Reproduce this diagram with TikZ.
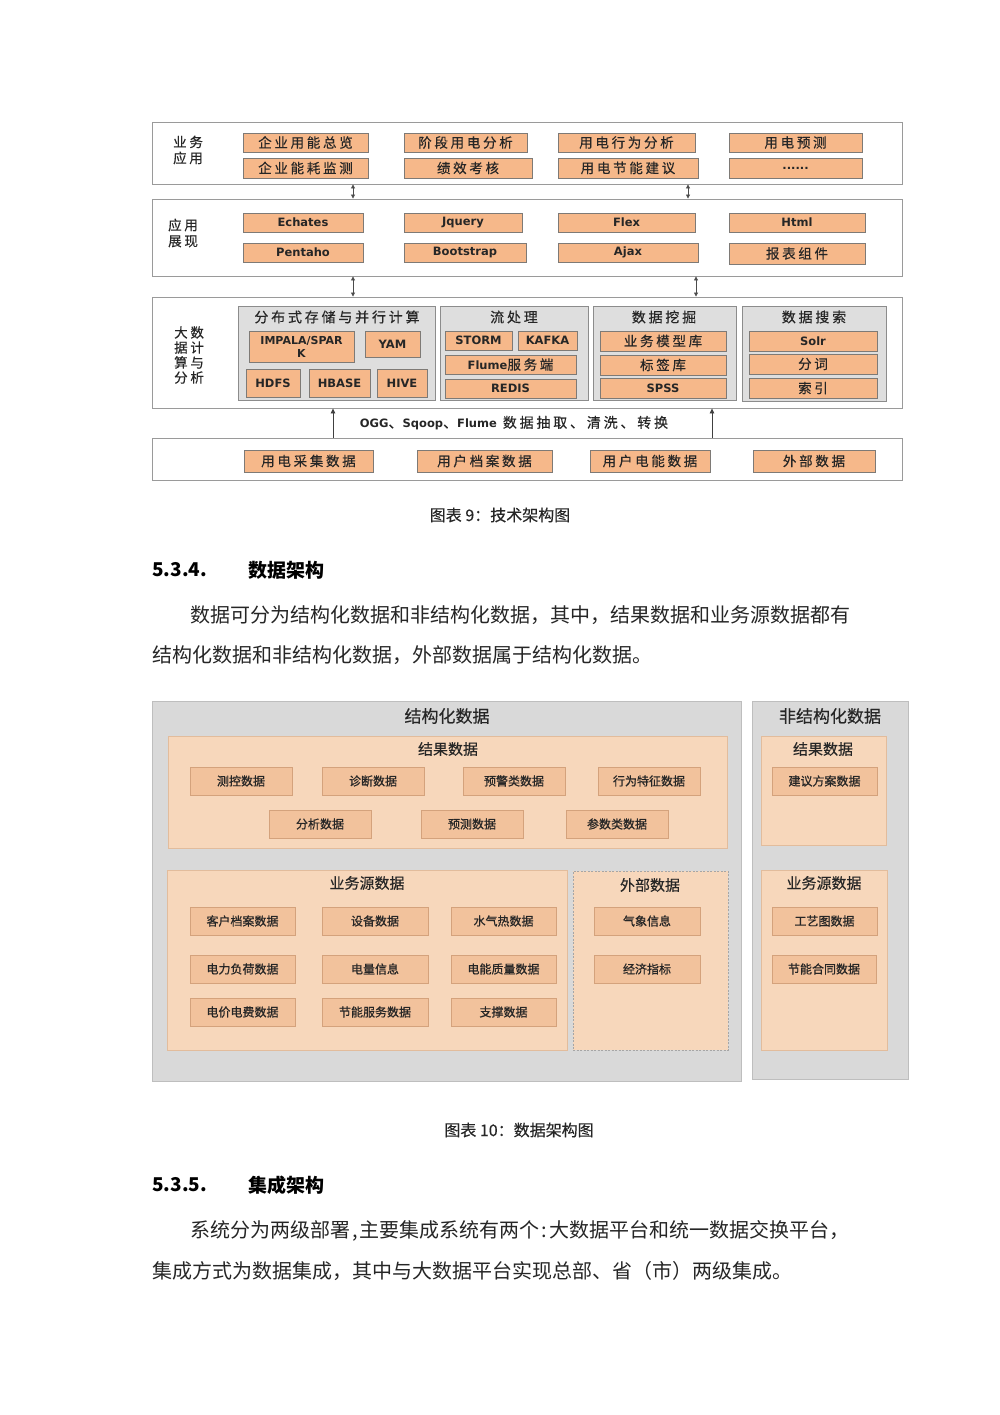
\documentclass[tikz,border=0pt]{standalone}
\usepackage{fontspec}
\setmainfont{Noto Sans CJK SC}
\newfontfamily\ensf{DejaVu Sans}
\newfontfamily\cjksp[LetterSpace=20,FakeBold=0.4]{Noto Sans CJK SC}
\newfontfamily\cjkfb[FakeBold=0.8]{Noto Sans CJK SC}
\newfontfamily\cjkmd[FakeBold=0.3]{Noto Sans CJK SC}
\usetikzlibrary{arrows.meta,shadows}
\definecolor{orng}{HTML}{F6B88A}
\definecolor{obd}{HTML}{7E7A76}
\definecolor{grpf}{HTML}{DEDEDE}
\definecolor{grpd}{HTML}{8C8C8C}
\definecolor{layd}{HTML}{9A9A9A}
\definecolor{outf}{HTML}{D9D9D9}
\definecolor{outd}{HTML}{BEBEBE}
\definecolor{panf}{HTML}{F7D7BB}
\definecolor{pand}{HTML}{E2BC9C}
\definecolor{itf}{HTML}{F2C29C}
\definecolor{itd}{HTML}{D4A27C}
\definecolor{txt}{HTML}{262626}
\newcommand\mybx[7][]{%
  \node[#1, minimum width={(#5-#3)*1pt}, minimum height={(#6-#4)*1pt}] (#2) at ({(#3+#5)/2},{(#4+#6)/2}) {#7};}
\tikzset{
  lay/.style={draw=layd, fill=white, line width=0.9pt, inner sep=0pt,
    drop shadow={shadow xshift=1pt, shadow yshift=-1pt, opacity=0.25}},
  grp/.style={draw=grpd, fill=grpf, line width=0.8pt, inner sep=0pt},
  ob/.style={draw=obd, fill=orng, line width=0.7pt, inner sep=0pt, align=center,
    text=txt, font=\cjksp\fontsize{13.5}{14}\selectfont,
    drop shadow={shadow xshift=1pt, shadow yshift=-1pt, opacity=0.35}},
  obe/.style={ob, font=\ensf\bfseries\fontsize{11.5}{12}\selectfont},
  lbl/.style={anchor=west, align=left, text=txt, font=\cjksp\fontsize{13.5}{16}\selectfont, inner sep=0pt},
  gttl/.style={text=txt, font=\cjksp\fontsize{14}{15}\selectfont, inner sep=0pt},
  dar/.style={{Triangle[length=4pt,width=4pt]}-{Triangle[length=4pt,width=4pt]}, draw=black!70, line width=0.8pt},
  uar/.style={-{Triangle[length=5pt,width=4.5pt]}, draw=black!75, line width=0.8pt},
  outg/.style={draw=outd, fill=outf, line width=0.9pt, inner sep=0pt},
  pan/.style={draw=pand, fill=panf, line width=0.8pt, inner sep=0pt},
  it2/.style={draw=itd, fill=itf, line width=0.7pt, inner sep=0pt, text=txt,
    font=\cjkfb\fontsize{12}{13}\selectfont,
    drop shadow={shadow xshift=1pt, shadow yshift=-1pt, opacity=0.2}},
  ttlb/.style={text=txt, inner sep=0pt, font=\cjkmd\fontsize{17}{18}\selectfont},
  ttlc/.style={text=txt, inner sep=0pt, font=\cjkmd\fontsize{15}{16}\selectfont},
  bodytxt/.style={anchor=west, inner sep=0pt, text=txt, font=\fontsize{20}{22}\selectfont},
  hdg/.style={anchor=west, inner sep=0pt, text=black, font=\bfseries\fontsize{19}{21}\selectfont},
  captxt/.style={inner sep=0pt, text=txt, font=\cjkmd\fontsize{16}{18}\selectfont},
}
\begin{document}
\begin{tikzpicture}[x=1pt,y=-1pt]
\useasboundingbox[fill=white] (0,0) rectangle (1000,1415);

% ================= Diagram 1: technical architecture =================
% layer 1
\mybx[lay]{L1}{152}{122}{902}{184}{}
\node[lbl] (L1t) at (173,150) {业务\\应用};
\mybx[ob]{b11}{243}{133}{368}{152}{企业用能总览}
\mybx[ob]{b12}{404}{133}{527}{152}{阶段用电分析}
\mybx[ob]{b13}{558}{133}{695}{152}{用电行为分析}
\mybx[ob]{b14}{729}{133}{862}{152}{用电预测}
\mybx[ob]{b21}{243}{158}{368}{178}{企业能耗监测}
\mybx[ob]{b22}{404}{158}{532}{178}{绩效考核}
\mybx[ob]{b23}{558}{158}{698}{178}{用电节能建议}
\mybx[obe]{b24}{729}{158}{862}{178}{......}

% layer 2
\mybx[lay]{L2}{152}{199}{902}{276}{}
\node[lbl] (L2t) at (168,233) {应用\\展现};
\mybx[obe]{c11}{243}{213}{363}{232}{Echates}
\mybx[obe]{c12}{404}{213}{522}{232}{Jquery}
\mybx[obe]{c13}{558}{213}{695}{232}{Flex}
\mybx[obe]{c14}{729}{213}{865}{232}{Html}
\mybx[obe]{c21}{243}{243}{363}{262}{Pentaho}
\mybx[obe]{c22}{404}{243}{526}{262}{Bootstrap}
\mybx[obe]{c23}{558}{243}{698}{262}{Ajax}
\mybx[ob]{c24}{729}{243}{865}{264}{报表组件}

% layer 3
\mybx[lay]{L3}{152}{297}{902}{408}{}
\node[lbl, font=\cjksp\fontsize{13.5}{15}\selectfont] (L3t) at (174,355) {大数\\据计\\算与\\分析};
\mybx[grp]{G1}{238}{306}{435}{400}{}
\mybx[grp]{G2}{440}{306}{588}{400}{}
\mybx[grp]{G3}{593}{306}{736}{400}{}
\mybx[grp]{G4}{742}{306}{886}{401}{}
\node[gttl] (G1t) at (337,317) {分布式存储与并行计算};
\node[gttl] (G2t) at (514,317) {流处理};
\node[gttl] (G3t) at (664,317) {数据挖掘};
\node[gttl] (G4t) at (814,317) {数据搜索};
\mybx[obe, font=\ensf\bfseries\fontsize{11}{13}\selectfont]{d1}{249}{331}{354}{362}{IMPALA/SPAR\\K}
\mybx[obe]{d2}{365}{331}{420}{357}{YAM}
\mybx[obe]{d3}{246}{369}{300}{397}{HDFS}
\mybx[obe]{d4}{309}{369}{370}{397}{HBASE}
\mybx[obe]{d5}{377}{369}{427}{397}{HIVE}
\mybx[obe]{e1}{445}{331}{512}{350}{STORM}
\mybx[obe]{e2}{518}{331}{577}{350}{KAFKA}
\mybx[ob]{e3}{445}{355}{576}{374}{{\ensf\bfseries\fontsize{11.5}{12}\selectfont Flume}服务端}
\mybx[obe]{e4}{445}{379}{576}{398}{REDIS}
\mybx[ob]{f1}{600}{331}{726}{351}{业务模型库}
\mybx[ob]{f2}{600}{355}{726}{375}{标签库}
\mybx[obe]{f3}{600}{378}{726}{398}{SPSS}
\mybx[obe]{g1}{749}{331}{877}{351}{Solr}
\mybx[ob]{g2}{749}{354}{877}{374}{分词}
\mybx[ob]{g3}{749}{378}{877}{398}{索引}

% layer 4
\mybx[lay]{L4}{152}{438}{902}{480}{}
\mybx[ob]{h1}{244}{450}{373}{472}{用电采集数据}
\mybx[ob]{h2}{417}{450}{552}{472}{用户档案数据}
\mybx[ob]{h3}{590}{450}{710}{472}{用户电能数据}
\mybx[ob]{h4}{753}{450}{875}{472}{外部数据}
\node[inner sep=0pt, text=txt, font=\cjksp\fontsize{14}{15}\selectfont] (etl) at (514,423)
  {{\ensf\bfseries\fontsize{11.5}{12}\selectfont OGG}、{\ensf\bfseries\fontsize{11.5}{12}\selectfont Sqoop}、{\ensf\bfseries\fontsize{11.5}{12}\selectfont Flume} 数据抽取、清洗、转换};

% arrows
\coordinate (xa) at (353,0);
\coordinate (xb) at (688,0);
\coordinate (xc) at (696,0);
\coordinate (xd) at (333,0);
\coordinate (xe) at (712,0);
\draw[dar] (L1.south -| xa) -- (L2.north -| xa);
\draw[dar] (L1.south -| xb) -- (L2.north -| xb);
\draw[dar] (L2.south -| xa) -- (L3.north -| xa);
\draw[dar] (L2.south -| xc) -- (L3.north -| xc);
\draw[uar] (L4.north -| xd) -- (L3.south -| xd);
\draw[uar] (L4.north -| xe) -- (L3.south -| xe);

\node[captxt] (cap9) at (500,515) {图表 9：技术架构图};

% ================= text =================
\node[hdg] (h534n) at (152,570) {5.3.4.};
\node[hdg] (h534) at (248,570) {数据架构};
\node[bodytxt] (p1a) at (190,615) {数据可分为结构化数据和非结构化数据，其中，结果数据和业务源数据都有};
\node[bodytxt] (p1b) at (152,655) {结构化数据和非结构化数据，外部数据属于结构化数据。};

% ================= Diagram 2: data architecture =================
\mybx[outg]{O1}{152}{701}{741}{1081}{}
\node[ttlb] (O1t) at (447,716) {结构化数据};
\mybx[pan]{P1}{168}{736}{727}{848}{}
\node[ttlc] (P1t) at (448,749) {结果数据};
\mybx[it2]{k1}{190}{767}{292}{795}{测控数据}
\mybx[it2]{k2}{322}{767}{424}{795}{诊断数据}
\mybx[it2]{k3}{463}{767}{565}{795}{预警类数据}
\mybx[it2]{k4}{598}{767}{700}{795}{行为特征数据}
\mybx[it2]{k5}{269}{810}{371}{838}{分析数据}
\mybx[it2]{k6}{421}{810}{523}{838}{预测数据}
\mybx[it2]{k7}{566}{810}{668}{838}{参数类数据}

\mybx[pan]{P2}{167}{870}{567}{1050}{}
\node[ttlc] (P2t) at (367,883) {业务源数据};
\mybx[it2]{m1}{190}{907}{295}{935}{客户档案数据}
\mybx[it2]{m2}{322}{907}{428}{935}{设备数据}
\mybx[it2]{m3}{451}{907}{556}{935}{水气热数据}
\mybx[it2]{m4}{190}{955}{295}{983}{电力负荷数据}
\mybx[it2]{m5}{322}{955}{428}{983}{电量信息}
\mybx[it2]{m6}{451}{955}{556}{983}{电能质量数据}
\mybx[it2]{m7}{190}{998}{295}{1026}{电价电费数据}
\mybx[it2]{m8}{322}{998}{428}{1026}{节能服务数据}
\mybx[it2]{m9}{451}{998}{556}{1026}{支撑数据}

\mybx[pan, draw=black!35, dash pattern=on 2pt off 1.5pt]{P3}{573}{871}{728}{1050}{}
\node[ttlc] (P3t) at (650,885) {外部数据};
\mybx[it2]{n1}{594}{907}{700}{935}{气象信息}
\mybx[it2]{n2}{594}{955}{700}{983}{经济指标}

\mybx[outg]{O2}{752}{701}{908}{1079}{}
\node[ttlb] (O2t) at (830,716) {非结构化数据};
\mybx[pan]{P4}{761}{736}{886}{845}{}
\node[ttlc] (P4t) at (823,749) {结果数据};
\mybx[it2]{q1}{772}{767}{877}{795}{建议方案数据}
\mybx[pan]{P5}{761}{870}{887}{1050}{}
\node[ttlc] (P5t) at (824,883) {业务源数据};
\mybx[it2]{q2}{772}{907}{877}{935}{工艺图数据}
\mybx[it2]{q3}{772}{955}{876}{983}{节能合同数据}

\node[captxt] (cap10) at (519,1130) {图表 10：数据架构图};

\node[hdg] (h535n) at (152,1185) {5.3.5.};
\node[hdg] (h535) at (248,1185) {集成架构};
\node[bodytxt] (p2a) at (190,1231) {系统分为两级部署\kern2pt,\kern2pt 主要集成系统有两个\kern2pt:\kern2pt 大数据平台和统一数据交换平台，};
\node[bodytxt] (p2b) at (152,1271) {集成方式为数据集成，其中与大数据平台实现总部、省（市）两级集成。};
\end{tikzpicture}
\end{document}
